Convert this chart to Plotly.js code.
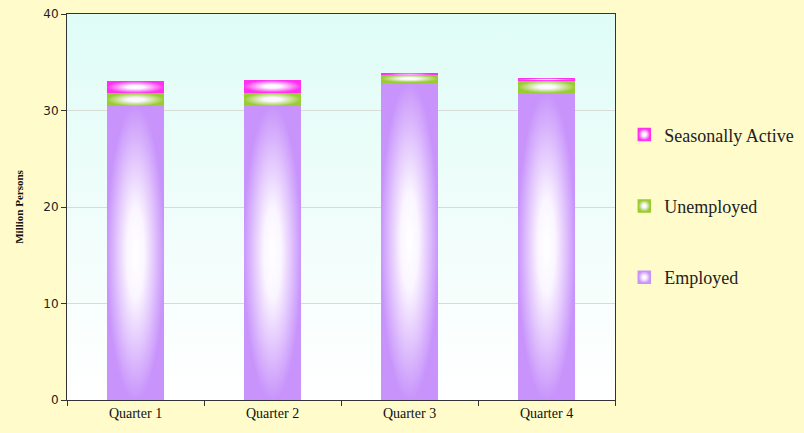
<!DOCTYPE html>
<html>
<head>
<meta charset="utf-8">
<script src="https://cdn.plot.ly/plotly-3.0.1.min.js"></script>
<style>
html,body{margin:0;padding:0;background:#fffbcb;}
#chart{width:804px;height:433px;}
</style>
</head>
<body>
<div id="chart"></div>
<script>
const quarters = ["Quarter 1", "Quarter 2", "Quarter 3", "Quarter 4"];
const employed = [30.45, 30.45, 32.9, 31.8];
const unemployed = [1.35, 1.4, 0.8, 1.3];
const seasonallyActive = [1.25, 1.3, 0.15, 0.23];
const seriesNames = ["Employed", "Unemployed", "Seasonally Active"];
const seriesColors = ["#c894fb", "#98cc30", "#ff30f0"];
const yTicks = [0, 10, 20, 30, 40];

const seriesValues = [employed, unemployed, seasonallyActive];
const traces = seriesValues.map((vals, i) => ({
  type: "bar",
  name: seriesNames[i],
  x: quarters,
  y: vals,
  legendgroup: "g" + i,
  legendrank: 3 - i,
  marker: { color: seriesColors[i], line: { width: 0 } },
  hoverinfo: "skip"
}));

// plot background gradient (light cyan top -> white bottom)
const bgSvg = '<svg xmlns="http://www.w3.org/2000/svg" width="10" height="100" preserveAspectRatio="none"><defs><linearGradient id="g" x1="0" y1="0" x2="0" y2="1"><stop offset="0" stop-color="#dffcf6"/><stop offset="1" stop-color="#ffffff"/></linearGradient></defs><rect width="10" height="100" fill="url(#g)"/></svg>';
const bgUrl = "data:image/svg+xml;base64," + btoa(bgSvg);

const layout = {
  width: 804, height: 433,
  paper_bgcolor: "#fffbcb",
  plot_bgcolor: "rgba(0,0,0,0)",
  margin: { l: 67, r: 189, t: 14, b: 33, autoexpand: false },
  barmode: "stack",
  bargap: 0.58,
  showlegend: true,
  legend: {
    x: 1.017, y: 0.735, xanchor: "left", yanchor: "top",
    traceorder: "grouped",
    tracegroupgap: 45,
    font: { family: "Liberation Serif, Times New Roman, serif", size: 18, color: "#222" },
    bgcolor: "rgba(0,0,0,0)",
    itemwidth: 30
  },
  xaxis: {
    type: "category",
    showline: true, linecolor: "#333", linewidth: 1, mirror: true,
    ticks: "outside", ticklen: 5, tickcolor: "#333",
    tickson: "boundaries",
    showgrid: false,
    tickfont: { family: "Liberation Serif, Times New Roman, serif", size: 14, color: "#111" }
  },
  yaxis: {
    range: [0, 40],
    tickvals: yTicks,
    showline: true, linecolor: "#333", linewidth: 1, mirror: true,
    ticks: "outside", ticklen: 5, tickcolor: "#333",
    showgrid: true, gridcolor: "#d8dcd8", gridwidth: 1,
    zeroline: false,
    tickfont: { family: "DejaVu Sans, Verdana, sans-serif", size: 12, color: "#222" },
    title: { text: "<b>Million Persons</b>", standoff: 17,
      font: { family: "Liberation Serif, Times New Roman, serif", size: 11, color: "#111" } }
  },
  images: [{
    source: bgUrl, xref: "paper", yref: "paper", x: 0, y: 1, sizex: 1, sizey: 1,
    sizing: "stretch", layer: "below", xanchor: "left", yanchor: "top"
  }]
};

Plotly.newPlot("chart", traces, layout, { displayModeBar: false, staticPlot: true }).then(gd => {
  const svg = gd.querySelector(".main-svg");
  const ns = "http://www.w3.org/2000/svg";
  let defs = svg.querySelector("defs");
  if (!defs) { defs = document.createElementNS(ns, "defs"); svg.insertBefore(defs, svg.firstChild); }
  seriesColors.forEach((c, i) => {
    const rg = document.createElementNS(ns, "radialGradient");
    rg.setAttribute("id", "barglow" + i);
    rg.setAttribute("cx", "0.5"); rg.setAttribute("cy", "0.5"); rg.setAttribute("r", "0.5");
    [[0, "#ffffff"], [0.3, "#fbf6ff"], [1, c]].forEach(([o, col]) => {
      const s = document.createElementNS(ns, "stop");
      s.setAttribute("offset", o); s.setAttribute("stop-color", col);
      rg.appendChild(s);
    });
    defs.appendChild(rg);
  });
  const barTraces = gd.querySelectorAll(".barlayer .trace");
  barTraces.forEach((t, i) => {
    t.querySelectorAll("path").forEach(p => { p.style.fill = "url(#barglow" + i + ")"; });
  });
  gd.querySelectorAll(".legend .traces").forEach(t => {
    const name = t.textContent.trim();
    const idx = seriesNames.indexOf(name);
    t.querySelectorAll(".legendpoints path").forEach(p => {
      p.style.fill = "url(#barglow" + idx + ")";
      p.style.stroke = seriesColors[idx];
      p.style.strokeWidth = "1.5px";
    });
  });
});
</script>
</body>
</html>
